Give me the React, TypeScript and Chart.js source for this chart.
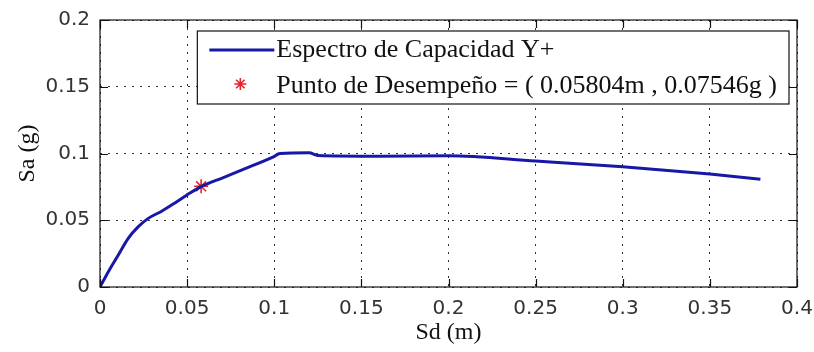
import React, { useEffect, useRef } from "react";
import { Chart, registerables } from "chart.js";

Chart.register(...registerables);

// Capacity spectrum (Sd in m, Sa in g)
const sdValues = [0, 0.0048, 0.0105, 0.0162, 0.022, 0.0277, 0.0354, 0.043, 0.0497, 0.058, 0.0708, 0.0861, 0.0995, 0.1033, 0.12, 0.125, 0.16, 0.2, 0.25, 0.3, 0.35, 0.379];
const saValues = [0, 0.0115, 0.024, 0.0365, 0.0452, 0.0514, 0.0568, 0.063, 0.0688, 0.0752, 0.082, 0.0901, 0.0975, 0.1, 0.1005, 0.0985, 0.098, 0.0983, 0.0944, 0.0901, 0.0846, 0.0807];

// Performance point
const perfSd = [0.05804];
const perfSa = [0.07546];

const xTickLabels = ["0", "0.05", "0.1", "0.15", "0.2", "0.25", "0.3", "0.35", "0.4"];
const yTickLabels = ["0", "0.05", "0.1", "0.15", "0.2"];

const seriesLabels = ["Espectro de Capacidad Y+", "Punto de Desempeño = ( 0.05804m , 0.07546g )"];

const LINE_COLOR = "#1818a6";
const STAR_COLOR = "#e3262b";
const SERIF = "'Liberation Serif', 'Times New Roman', serif";
const SANS = "'DejaVu Sans', sans-serif";

const framePlugin = {
  id: "matlabFrame",
  afterDatasetsDraw(chart: any) {
    const { ctx, chartArea: a, scales } = chart;
    ctx.save();
    ctx.strokeStyle = "#111";
    ctx.lineWidth = 1.2;
    ctx.strokeRect(a.left, a.top, a.right - a.left, a.bottom - a.top);
    const tl = 8;
    ctx.beginPath();
    scales.x.ticks.forEach((t: any) => {
      const px = Math.round(scales.x.getPixelForValue(t.value)) + 0.5;
      ctx.moveTo(px, a.bottom);
      ctx.lineTo(px, a.bottom - tl);
      ctx.moveTo(px, a.top);
      ctx.lineTo(px, a.top + tl);
    });
    scales.y.ticks.forEach((t: any) => {
      const py = Math.round(scales.y.getPixelForValue(t.value)) + 0.5;
      ctx.moveTo(a.left, py);
      ctx.lineTo(a.left + tl, py);
      ctx.moveTo(a.right, py);
      ctx.lineTo(a.right - tl, py);
    });
    ctx.stroke();
    ctx.restore();
  },
  afterDraw(chart: any) {
    const { ctx, chartArea: a } = chart;
    const ds = chart.data.datasets;
    ctx.save();
    ctx.font = `26px ${SERIF}`;
    const textW = Math.max(...ds.map((d: any) => ctx.measureText(d.label).width));
    const sampleW = 79;
    const right = a.right - 8;
    const top = a.top + 11;
    const w = textW + sampleW + 12;
    const h = 73;
    const left = right - w;
    ctx.fillStyle = "#fff";
    ctx.fillRect(left, top, w, h);
    ctx.strokeStyle = "#111";
    ctx.lineWidth = 1.2;
    ctx.strokeRect(left, top, w, h);
    const rows = [top + 19, top + 55];
    // line sample
    ctx.strokeStyle = ds[0].borderColor;
    ctx.lineWidth = 3;
    ctx.beginPath();
    ctx.moveTo(left + 12, rows[0]);
    ctx.lineTo(left + 77, rows[0]);
    ctx.stroke();
    // star sample
    ctx.strokeStyle = ds[1].borderColor;
    ctx.lineWidth = 1.6;
    const cx = left + 43;
    const cy = rows[1] - 2;
    const r = 6;
    ctx.beginPath();
    for (let k = 0; k < 4; k++) {
      const ang = (k * Math.PI) / 4;
      ctx.moveTo(cx - r * Math.cos(ang), cy - r * Math.sin(ang));
      ctx.lineTo(cx + r * Math.cos(ang), cy + r * Math.sin(ang));
    }
    ctx.stroke();
    ctx.fillStyle = "#111";
    ctx.textBaseline = "middle";
    ctx.textAlign = "left";
    ds.forEach((d: any, i: number) => {
      ctx.fillText(d.label, left + sampleW, rows[i]);
    });
    ctx.restore();
  },
};

export default function App() {
  const canvasRef = useRef<HTMLCanvasElement | null>(null);

  useEffect(() => {
    document.body.style.margin = "0";
    document.body.style.background = "#fff";
    const canvas = canvasRef.current;
    if (!canvas) return;
    const chart = new Chart(canvas, {
      type: "line",
      data: {
        datasets: [
          {
            label: seriesLabels[0],
            data: sdValues.map((x, i) => ({ x, y: saValues[i] })),
            borderColor: LINE_COLOR,
            backgroundColor: LINE_COLOR,
            borderWidth: 3,
            pointRadius: 0,
            tension: 0.2,
            cubicInterpolationMode: "monotone",
            fill: false,
          },
          {
            label: seriesLabels[1],
            data: perfSd.map((x, i) => ({ x, y: perfSa[i] })),
            borderColor: STAR_COLOR,
            backgroundColor: STAR_COLOR,
            showLine: false,
            pointStyle: "star",
            pointRadius: 7,
            pointBorderWidth: 1.6,
          },
        ],
      },
      options: {
        animation: false,
        responsive: false,
        layout: { padding: { top: 20, right: 17, left: 0, bottom: 0 } },
        plugins: { legend: { display: false }, tooltip: { enabled: false } },
        scales: {
          x: {
            type: "linear",
            min: 0,
            max: 0.4,
            afterFit: (s: any) => {
              s.height = 65;
              s.paddingLeft = 0;
              s.paddingRight = 0;
            },
            ticks: {
              stepSize: 0.05,
              padding: 10,
              maxRotation: 0,
              autoSkip: false,
              color: "#333",
              font: { family: SANS, size: 20, weight: "normal" },
              callback: (_v: any, i: number) => xTickLabels[i],
            },
            grid: { color: "#333", lineWidth: 1, drawTicks: false },
            border: { display: false, dash: [2, 6] },
            title: {
              display: true,
              text: "Sd (m)",
              color: "#111",
              font: { family: SERIF, size: 24 },
              padding: { top: 0, bottom: 5 },
            },
          },
          y: {
            type: "linear",
            min: 0,
            max: 0.2,
            afterFit: (s: any) => {
              s.width = 100;
              s.paddingTop = 0;
              s.paddingBottom = 0;
            },
            ticks: {
              stepSize: 0.05,
              padding: 10,
              color: "#333",
              font: { family: SANS, size: 20, weight: "normal" },
              callback: (_v: any, i: number) => yTickLabels[i],
            },
            grid: { color: "#333", lineWidth: 1, drawTicks: false },
            border: { display: false, dash: [2, 6] },
            title: {
              display: true,
              text: "Sa (g)",
              color: "#111",
              font: { family: SERIF, size: 24 },
              padding: { top: 13, bottom: 0 },
            },
          },
        },
      },
      plugins: [framePlugin],
    } as any);
    return () => chart.destroy();
  }, []);

  return (
    <div style={{ width: 814, height: 352, background: "#fff" }}>
      <canvas ref={canvasRef} width={814} height={352} style={{ display: "block" }} />
    </div>
  );
}
